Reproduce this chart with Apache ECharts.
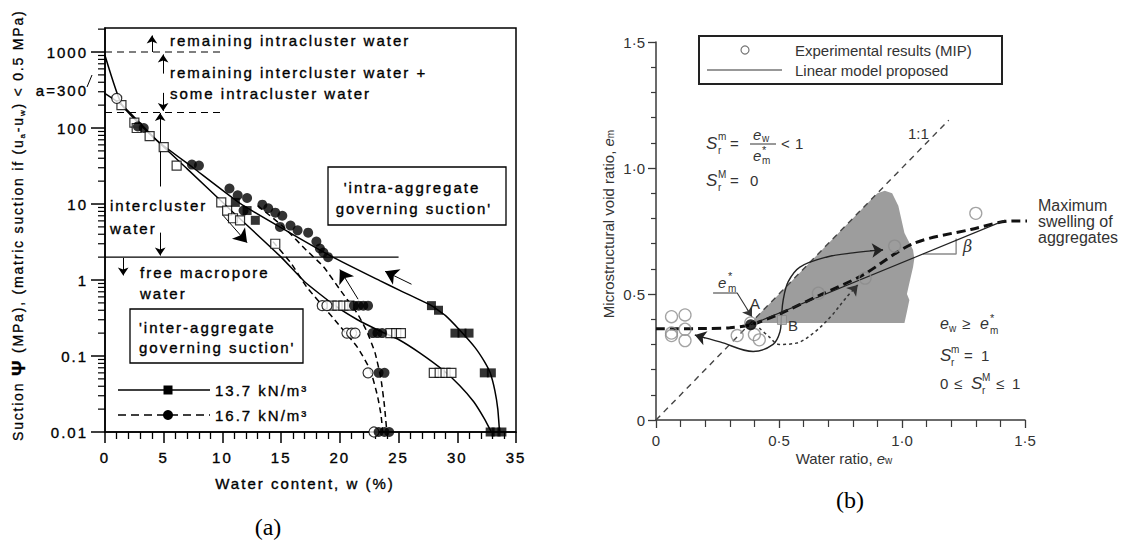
<!DOCTYPE html>
<html><head><meta charset="utf-8">
<script src="https://cdn.jsdelivr.net/npm/echarts@6.0.0/dist/echarts.min.js"></script>
<style>html,body{margin:0;padding:0;background:#fff;}#c{width:1122px;height:544px;}</style>
</head><body><div id="c"></div>
<script>
// ================= Panel (a): water content w (%) vs suction (MPa, log) =================
const aYLabels = ['0.01', '0.1', '1', '10', '100', '1000'];
const aYMajor = [-2, -1, 0, 1, 2, 3];
const aYMax = 2070;
// 13.7 kN/m3 solid curves
const c137UpW = [0, 1.45, 4.4, 7.5, 11.5, 15.5, 19.4, 23.4, 25.1, 27.7, 29, 30.2, 31.5, 32.3, 32.8, 33.2, 33.45, 33.6];
const c137UpP = [900, 200, 69, 30, 10.2, 4.4, 2.0, 0.98, 0.73, 0.47, 0.34, 0.22, 0.13, 0.085, 0.06, 0.035, 0.02, 0.01];
const c137LoW = [-0.68, 1.45, 4.4, 7, 10.9, 15, 17, 19.5, 21.5, 23.5, 25, 26.8, 28.8, 30.2, 31.4, 32.3, 32.9];
const c137LoP = [333, 200, 69, 29, 7.8, 2.0, 0.95, 0.47, 0.3, 0.21, 0.165, 0.11, 0.065, 0.041, 0.025, 0.015, 0.01];
// 16.7 kN/m3 dashed curves
const c167AW = [13.0, 15.2, 17.0, 18.6, 20, 21.5, 22.3, 23.0, 23.5, 23.8, 24];
const c167AP = [9.5, 5.0, 2.6, 1.5, 0.75, 0.36, 0.21, 0.11, 0.05, 0.022, 0.01];
const c167BW = [14.3, 15.8, 17.2, 19.4, 21.5, 22.6, 23.2, 23.5, 23.65];
const c167BP = [3.2, 1.7, 0.8, 0.32, 0.13, 0.065, 0.03, 0.017, 0.01];
// measured points
const sqFillW = [11.1, 12.1, 12.8, 27.8, 28.4, 29.8, 30.4, 31.0, 32.3, 32.9, 32.8, 33.3, 33.8];
const sqFillP = [10.5, 8.2, 6.1, 0.46, 0.40, 0.2, 0.2, 0.2, 0.06, 0.06, 0.01, 0.01, 0.01];
const sqOpenW = [1.4, 2.5, 2.7, 3.8, 5.0, 6.1, 9.9, 10.4, 10.9, 11.5, 14.5, 19.3, 19.8, 20.3, 20.8, 24.3, 24.8, 25.2, 28.0, 28.5, 29.0, 29.5];
const sqOpenP = [200, 118, 100, 78, 56, 32, 10.5, 8.2, 6.5, 6.1, 3.0, 0.46, 0.46, 0.46, 0.46, 0.2, 0.2, 0.2, 0.06, 0.06, 0.06, 0.06];
const ciFillW = [2.8, 3.3, 7.4, 8.0, 10.6, 11.3, 12.1, 11.8, 13.4, 13.9, 14.5, 15.1, 14.9, 15.8, 16.4, 17.3, 18.0, 18.3, 18.6, 19.0, 21.2, 21.6, 22.0, 22.4, 22.8, 23.2, 23.6, 23.3, 23.8, 23.3, 23.8, 24.2];
const ciFillP = [105, 100, 33, 32, 16, 13, 12, 8.2, 9.8, 8.8, 7.7, 7.0, 5.0, 5.2, 4.5, 4.2, 3.2, 2.6, 2.3, 2.0, 0.46, 0.46, 0.46, 0.46, 0.2, 0.2, 0.2, 0.06, 0.06, 0.01, 0.01, 0.01];
const ciOpenW = [1.0, 18.5, 18.9, 20.6, 21.0, 21.3, 22.4, 22.9];
const ciOpenP = [245, 0.46, 0.46, 0.2, 0.2, 0.2, 0.06, 0.01];
// guide levels
const levelTopW = [0, 10], levelTopP = 1000;
const levelMidW = [0, 10], levelMidP = 160;
const levelFreeW = [0, 25], levelFreeP = 2;
// annotation arrows [w1, p1, w2, p2, headSize]
const aArrows = [
  [4.0, 1000, 4.0, 1650, 8], [4.95, 520, 4.95, 930, 8], [4.95, 290, 4.95, 168, 8],
  [4.7, 17, 4.7, 158, 8], [4.7, 4.2, 4.7, 2.1, 8], [1.55, 1.95, 1.55, 1.15, 8],
  [10.05, 7.1, 12.1, 3.1, 13], [21.55, 0.56, 20.0, 1.37, 13], [26.1, 0.88, 23.85, 1.3, 13]
];

// ================= Panel (b): water ratio vs microstructural void ratio =================
const bTickLabels = ['0', '0·5', '1·0', '1·5'];
const expEw = [0.063, 0.118, 0.063, 0.063, 0.118, 0.118, 0.33, 0.40, 0.42, 0.385, 0.66, 0.85, 0.97, 1.30];
const expEm = [0.41, 0.417, 0.345, 0.335, 0.36, 0.315, 0.335, 0.339, 0.318, 0.385, 0.503, 0.563, 0.69, 0.82];
const ptA = [0.385, 0.378];
const ptB = [0.512, 0.397];
const modelEw = [0.385, 1.42];
const modelEm = [0.378, 0.793];
const swellEw = [0, 0.2, 0.3, 0.385, 0.5, 0.667, 0.84, 1.045, 1.28, 1.45, 1.53];
const swellEm = [0.362, 0.363, 0.366, 0.378, 0.42, 0.496, 0.575, 0.70, 0.756, 0.79, 0.79];
const diagEw = [0, 1.19];
const diagEm = [0, 1.19];
const shadeEw = [0.385, 0.88, 0.9, 0.93, 0.96, 0.985, 1.01, 1.045, 1.05, 1.045, 1.03, 1.02, 1.03, 1.02, 1.01];
const shadeEm = [0.385, 0.88, 0.9, 0.91, 0.9, 0.85, 0.742, 0.675, 0.64, 0.607, 0.544, 0.5, 0.476, 0.43, 0.385];
const pathEw = [0.158, 0.26, 0.395, 0.476, 0.504, 0.51, 0.517, 0.537, 0.585, 0.695, 0.8, 0.923];
const pathEm = [0.337, 0.31, 0.272, 0.3, 0.35, 0.41, 0.476, 0.548, 0.607, 0.647, 0.663, 0.675];
const dotEw = [0.42, 0.46, 0.5, 0.57, 0.64, 0.71, 0.775, 0.82];
const dotEm = [0.365, 0.33, 0.3, 0.305, 0.345, 0.41, 0.488, 0.536];
const betaEw = [1.085, 1.22, 1.22];
const betaEm = [0.659, 0.659, 0.72];
const pointerEw = [0.232, 0.33, 0.39];
const pointerEm = [0.504, 0.504, 0.41];

// ---------------- helpers ----------------
const L = v => Math.log10(v);
const zipL = (w, p) => w.map((x, i) => [x, L(p[i])]);
const zip = (a, b) => a.map((x, i) => [x, b[i]]);
const LF = '"Liberation Sans"';
const RF = 'Arial, "Liberation Sans"';
const spacingFor = px => (px >= 15 ? 2.0 : 1.8); // letter spacing of the scanned panel (a)

const aMinor = [];
for (let n = -2; n <= 3; n++) for (let k = 2; k <= 9; k++) { const v = k * Math.pow(10, n); if (v <= aYMax) aMinor.push(L(v)); }

function T(x, y, text, font, opt) {
  const st = Object.assign({ text: text, font: font, fill: '#000', align: 'left', verticalAlign: 'middle', textAlign: 'left', textVerticalAlign: 'middle' }, opt || {});
  if (st.align !== 'left') st.textAlign = st.align;
  return { type: 'text', x: x, y: y, silent: true, z: 100, style: st };
}
function TA(x, y, text, opt) { // panel a text, slightly heavier strokes like the scan
  return T(x, y, text, '15px ' + LF, Object.assign({ stroke: '#000', lineWidth: 0.35 }, opt || {}));
}
function Ln(x1, y1, x2, y2, color, w) {
  return { type: 'line', silent: true, z: 100, shape: { x1: x1, y1: y1, x2: x2, y2: y2 }, style: { stroke: color, lineWidth: w } };
}

// rotated y title of panel a, built from pieces so the subscripts sit right
const mctx = document.createElement('canvas').getContext('2d');
function tw(text, font, px) { mctx.font = font; return mctx.measureText(text).width + spacingFor(px) * [...text].length; }
const titleParts = [
  ['Suction ', '14px ' + LF, 14, 0], ['Ψ', 'bold 19px ' + LF, 19, 0], [' (MPa), (matric suction if (u', '14px ' + LF, 14, 0],
  ['a', '8px ' + LF, 8, 4], ['-u', '14px ' + LF, 14, 0], ['w', '8px ' + LF, 8, 4], [') < 0.5 MPa)', '14px ' + LF, 14, 0]];
const titleGraphics = [];
(function () {
  let cum = 0; const x0 = 18, y0 = 441;
  titleParts.forEach(p => {
    titleGraphics.push({ type: 'text', x: x0 + p[3], y: y0 - cum, rotation: Math.PI / 2, silent: true, z: 100,
      style: { text: p[0], font: p[1], fill: '#000', stroke: '#000', lineWidth: 0.3, align: 'left', verticalAlign: 'middle', textAlign: 'left', textVerticalAlign: 'middle' } });
    cum += tw(p[0], p[1], p[2]);
  });
})();

const bFont = '15px ' + RF;
const bIt = s => 'italic ' + s + 'px ' + RF;
const bSm = '10px ' + RF;
const bc = '#333';

const lineA = (data, dashed, extra) => Object.assign({
  type: 'line', xAxisIndex: 0, yAxisIndex: 0, data: data, symbol: 'none', showSymbol: false,
  smooth: 0.15, clip: false, silent: true, z: 2,
  lineStyle: { color: '#000', width: 1.5, type: dashed ? [6, 4] : 'solid' }
}, extra || {});
const scatA = (data, sym, filled) => ({
  type: 'scatter', xAxisIndex: 0, yAxisIndex: 0, data: data, symbol: sym, symbolSize: sym === 'rect' ? 9 : 10,
  silent: true, z: 5, clip: false,
  itemStyle: filled ? { color: '#000' } : { color: '#fff', borderColor: '#000', borderWidth: 1.2 }
});
const lineB = (data, style, extra) => Object.assign({
  type: 'line', xAxisIndex: 1, yAxisIndex: 1, data: data, symbol: 'none', showSymbol: false,
  clip: false, silent: true, z: 3, lineStyle: style
}, extra || {});
const arrowML = (pairs, color, defSize) => ({
  silent: true, symbol: ['none', 'arrow'], symbolSize: defSize, label: { show: false },
  emphasis: { disabled: true }, lineStyle: { type: 'solid', color: color, width: 1 },
  data: pairs
});

const option = {
  animation: false,
  backgroundColor: '#fff',
  textStyle: { fontFamily: 'Liberation Sans' },
  grid: [
    { left: 105, top: 28, width: 411, height: 404, show: true, borderColor: '#000', borderWidth: 1.5, backgroundColor: 'transparent' },
    { left: 656, top: 42, width: 369, height: 378, show: false }
  ],
  xAxis: [
    { gridIndex: 0, type: 'value', min: 0, max: 35, interval: 5,
      axisLine: { onZero: false, lineStyle: { color: '#000', width: 1.5 } },
      axisTick: { length: 11, lineStyle: { color: '#000', width: 1.5 } },
      minorTick: { show: true, splitNumber: 5, length: 7, lineStyle: { color: '#000', width: 1.3 } },
      splitLine: { show: false },
      axisLabel: { margin: 18, fontSize: 15, color: '#000', fontFamily: 'Liberation Sans', textBorderColor: '#000', textBorderWidth: 0.35 } },
    { gridIndex: 1, type: 'value', min: 0, max: 1.5, interval: 0.5,
      axisLine: { onZero: false, lineStyle: { color: '#3a3a3a', width: 1.5 } },
      axisTick: { length: 8, lineStyle: { color: '#3a3a3a', width: 1.3 } },
      minorTick: { show: true, splitNumber: 5, length: 7, lineStyle: { color: '#3a3a3a', width: 1.2 } },
      splitLine: { show: false },
      axisLabel: { margin: 13, fontSize: 15, color: bc, fontFamily: 'Arial', formatter: v => bTickLabels[Math.round(v * 2)] } }
  ],
  yAxis: [
    { gridIndex: 0, type: 'value', min: -2, max: L(aYMax), interval: 1,
      axisLine: { show: true, onZero: false, lineStyle: { color: '#000', width: 1.5 } },
      axisTick: { show: false },
      splitLine: { show: false },
      axisLabel: { margin: 17, fontSize: 15, color: '#000', fontFamily: 'Liberation Sans', customValues: aYMajor, textBorderColor: '#000', textBorderWidth: 0.35,
        formatter: v => { const r = Math.round(v); return Math.abs(v - r) < 1e-6 && r >= -2 && r <= 3 ? aYLabels[r + 2] : ''; } } },
    { gridIndex: 1, type: 'value', min: 0, max: 1.5, interval: 0.5,
      axisLine: { show: true, onZero: false, lineStyle: { color: '#3a3a3a', width: 1.5 } },
      axisTick: { show: true, length: 8, lineStyle: { color: '#3a3a3a', width: 1.3 } },
      minorTick: { show: true, splitNumber: 5, length: 5, lineStyle: { color: '#3a3a3a', width: 1.2 } },
      splitLine: { show: false },
      axisLabel: { margin: 11, fontSize: 15, color: bc, fontFamily: 'Arial', formatter: v => bTickLabels[Math.round(v * 2)] } }
  ],
  series: [
    // ---- panel a: log ticks of the suction axis ----
    { type: 'custom', xAxisIndex: 0, yAxisIndex: 0, clip: false, silent: true, z: 10,
      data: aYMajor.map(v => [0, v, 1]).concat(aMinor.map(v => [0, v, 0])),
      renderItem: (p, api) => {
        const c = api.coord([0, api.value(1)]); const major = api.value(2) === 1; const len = major ? 14 : 7;
        return { type: 'line', shape: { x1: c[0] - len, y1: c[1], x2: c[0], y2: c[1] }, style: { stroke: '#000', lineWidth: major ? 1.5 : 1.2 } };
      } },
    lineA([[levelTopW[0], L(levelTopP)], [levelTopW[1], L(levelTopP)]], true, { smooth: false, lineStyle: { color: '#000', width: 1.2, type: [7, 5] } }),
    lineA([[levelMidW[0], L(levelMidP)], [levelMidW[1], L(levelMidP)]], true, { smooth: false, lineStyle: { color: '#000', width: 1.2, type: [7, 5] } }),
    lineA([[levelFreeW[0], L(levelFreeP)], [levelFreeW[1], L(levelFreeP)]], false, {
      smooth: false, lineStyle: { color: '#000', width: 1.3 },
      markLine: arrowML(aArrows.map(a => [{ coord: [a[0], L(a[1])] }, { coord: [a[2], L(a[3])], symbolSize: a[4] }]), '#000', 8)
    }),
    lineA(zipL(c137UpW, c137UpP), false),
    lineA(zipL(c137LoW, c137LoP), false),
    lineA(zipL(c167AW, c167AP), true),
    lineA(zipL(c167BW, c167BP), true),
    scatA(zipL(sqOpenW, sqOpenP), 'rect', false),
    scatA(zipL(ciOpenW, ciOpenP), 'circle', false),
    scatA(zipL(sqFillW, sqFillP), 'rect', true),
    scatA(zipL(ciFillW, ciFillP), 'circle', true),
    // ---- panel b ----
    { type: 'custom', xAxisIndex: 1, yAxisIndex: 1, data: [0], silent: true, z: 1, clip: false,
      renderItem: (p, api) => ({ type: 'polygon', shape: { points: shadeEw.map((x, i) => api.coord([x, shadeEm[i]])) }, style: { fill: '#9d9d9d' } }) },
    lineB(zip(diagEw, diagEm), { color: '#444', width: 1.4, type: [6, 5] }),
    lineB(zip(betaEw, betaEm), { color: '#8a8a8a', width: 1.4 }),
    lineB(zip(swellEw, swellEm), { color: '#111', width: 3, type: [9, 5] }, { smooth: 0.3 }),
    lineB(zip(modelEw, modelEm), { color: '#222', width: 1.2 }),
    lineB(zip(pathEw, pathEm), { color: '#222', width: 1.4 }, {
      smooth: 0.35,
      markLine: arrowML([
        [{ coord: [0.2, 0.325] }, { coord: [pathEw[0], pathEm[0]] }],
        [{ coord: [0.87, 0.672] }, { coord: [pathEw[pathEw.length - 1], pathEm[pathEm.length - 1]] }]
      ], '#222', 11)
    }),
    lineB(zip(dotEw, dotEm), { color: '#333', width: 1.5, type: [3, 3] }, {
      smooth: 0.35,
      markLine: arrowML([[{ coord: [0.8, 0.514] }, { coord: [dotEw[dotEw.length - 1], dotEm[dotEm.length - 1]] }]], '#333', 10)
    }),
    lineB(zip(pointerEw, pointerEm), { color: '#333', width: 1.1 }, {
      markLine: arrowML([[{ coord: [0.37, 0.44] }, { coord: [pointerEw[2], pointerEm[2]] }]], '#333', 9)
    }),
    { type: 'scatter', xAxisIndex: 1, yAxisIndex: 1, data: zip(expEw, expEm), symbol: 'circle', symbolSize: 12, silent: true, z: 6,
      itemStyle: { color: 'rgba(0,0,0,0)', borderColor: '#8c8c8c', borderWidth: 1.3 } },
    { type: 'scatter', xAxisIndex: 1, yAxisIndex: 1, data: [ptB], symbol: 'rect', symbolSize: 9, silent: true, z: 6,
      itemStyle: { color: '#aaa', borderColor: '#888', borderWidth: 1 } },
    { type: 'scatter', xAxisIndex: 1, yAxisIndex: 1, data: [ptA], symbol: 'circle', symbolSize: 11, silent: true, z: 7,
      itemStyle: { color: '#000' } }
  ],
  graphic: titleGraphics.concat([
    // ----- panel a texts -----
    TA(305, 483, 'Water content, w (%)', { align: 'center' }),
    TA(170, 40, 'remaining intracluster water'),
    TA(170, 72, 'remaining intercluster water +'),
    TA(170, 93, 'some intracluster water'),
    TA(88, 90, 'a=300', { align: 'right' }),
    Ln(87, 87, 92, 75, '#000', 1),
    TA(110, 205, 'intercluster'),
    TA(110, 228, 'water'),
    TA(140, 272, 'free macropore'),
    TA(140, 293, 'water'),
    { type: 'rect', silent: true, z: 90, shape: { x: 130, y: 309, width: 173, height: 54 }, style: { fill: '#fff', stroke: '#000', lineWidth: 1.3 } },
    TA(139, 327, "'inter-aggregate"),
    TA(139, 347, "governing suction'"),
    { type: 'rect', silent: true, z: 90, shape: { x: 328, y: 167, width: 178, height: 58 }, style: { fill: '#fff', stroke: '#000', lineWidth: 1.3 } },
    TA(412, 187, "'intra-aggregate", { align: 'center' }),
    TA(414, 208, "governing suction'", { align: 'center' }),
    Ln(118, 390, 210, 390, '#000', 1.5),
    { type: 'rect', silent: true, z: 100, shape: { x: 163.5, y: 385.5, width: 9, height: 9 }, style: { fill: '#000' } },
    TA(215, 390, '13.7 kN/m³'),
    { type: 'line', silent: true, z: 100, shape: { x1: 118, y1: 415, x2: 210, y2: 415 }, style: { stroke: '#000', lineWidth: 1.5, lineDash: [8, 5] } },
    { type: 'circle', silent: true, z: 100, shape: { cx: 168, cy: 415, r: 5 }, style: { fill: '#000' } },
    TA(215, 415, '16.7 kN/m³'),
    T(268, 527, '(a)', '24px "Liberation Serif"', { align: 'center' }),
    // ----- panel b texts -----
    { type: 'text', x: 608, y: 224, rotation: Math.PI / 2, silent: true, z: 100,
      style: { text: 'Microstructural void ratio, {i|e}{s|m}', fontSize: 15, fontFamily: 'Arial', fill: bc,
        align: 'center', verticalAlign: 'middle', textAlign: 'center', textVerticalAlign: 'middle',
        rich: { i: { fontSize: 15, fontStyle: 'italic', fontFamily: 'Arial', fill: bc },
                s: { fontSize: 10, fontFamily: 'Arial', verticalAlign: 'bottom', fill: bc } } } },
    { type: 'text', x: 844, y: 458, silent: true, z: 100,
      style: { text: 'Water ratio, {i|e}{s|w}', fontSize: 15, fontFamily: 'Arial', fill: bc,
        align: 'center', verticalAlign: 'middle', textAlign: 'center', textVerticalAlign: 'middle',
        rich: { i: { fontSize: 15, fontStyle: 'italic', fontFamily: 'Arial', fill: bc },
                s: { fontSize: 10, fontFamily: 'Arial', verticalAlign: 'bottom', fill: bc } } } },
    { type: 'rect', silent: true, z: 90, shape: { x: 699, y: 36, width: 303, height: 48 }, style: { fill: '#fff', stroke: '#222', lineWidth: 2 } },
    { type: 'circle', silent: true, z: 100, shape: { cx: 745, cy: 50, r: 4 }, style: { fill: 'none', stroke: '#777', lineWidth: 1.2 } },
    Ln(707, 70, 782, 70, '#333', 1.2),
    T(795, 50, 'Experimental results (MIP)', bFont, { fill: bc }),
    T(795, 70, 'Linear model proposed', bFont, { fill: bc }),
    // S_r^m = e_w / e_m* < 1
    T(706, 143, 'S', bIt(17), { fill: bc }),
    T(718, 136, 'm', bSm, { fill: bc }), T(718, 150, 'r', bSm, { fill: bc }),
    T(730, 143, '=', bFont, { fill: bc }),
    T(753, 134, 'e', bIt(15), { fill: bc }), T(762, 138, 'w', bSm, { fill: bc }),
    Ln(750, 144, 776, 144, bc, 1),
    T(753, 155, 'e', bIt(15), { fill: bc }), T(762, 150, '*', '11px ' + RF, { fill: bc }), T(762, 160, 'm', bSm, { fill: bc }),
    T(781, 143, '<', bFont, { fill: bc }), T(795, 143, '1', bFont, { fill: bc }),
    // S_r^M = 0
    T(706, 180, 'S', bIt(17), { fill: bc }),
    T(718, 174, 'M', bSm, { fill: bc }), T(718, 187, 'r', bSm, { fill: bc }),
    T(730, 180, '=', bFont, { fill: bc }), T(750, 180, '0', bFont, { fill: bc }),
    T(908, 133, '1:1', bFont, { fill: bc }),
    // e_m* pointer label, A, B, beta
    T(718, 282, 'e', bIt(15), { fill: bc }), T(728, 276, '*', '11px ' + RF, { fill: bc }), T(728, 288, 'm', bSm, { fill: bc }),
    T(750, 303, 'A', bFont, { fill: bc }),
    T(788, 325, 'B', bFont, { fill: bc }),
    T(963, 246, 'β', 'italic 16px "DejaVu Serif"', { fill: bc }),
    T(1038, 205, 'Maximum', '16px ' + RF, { fill: bc }),
    T(1038, 221, 'swelling of', '16px ' + RF, { fill: bc }),
    T(1038, 237, 'aggregates', '16px ' + RF, { fill: bc }),
    // e_w >= e_m*
    T(940, 323, 'e', bIt(16), { fill: bc }), T(949, 328, 'w', bSm, { fill: bc }),
    T(962, 323, '≥', bFont, { fill: bc }),
    T(980, 323, 'e', bIt(16), { fill: bc }), T(990, 318, '*', '11px ' + RF, { fill: bc }), T(990, 330, 'm', bSm, { fill: bc }),
    // S_r^m = 1
    T(940, 355, 'S', bIt(17), { fill: bc }), T(951, 349, 'm', bSm, { fill: bc }), T(951, 362, 'r', bSm, { fill: bc }),
    T(964, 355, '=', bFont, { fill: bc }), T(981, 355, '1', bFont, { fill: bc }),
    // 0 <= S_r^M <= 1
    T(940, 383, '0', bFont, { fill: bc }), T(954, 383, '≤', bFont, { fill: bc }),
    T(971, 383, 'S', bIt(17), { fill: bc }), T(982, 377, 'M', bSm, { fill: bc }), T(982, 390, 'r', bSm, { fill: bc }),
    T(996, 383, '≤', bFont, { fill: bc }), T(1012, 383, '1', bFont, { fill: bc }),
    T(850, 500, '(b)', '24px "Liberation Serif"', { align: 'center' })
  ])
};

const chart = echarts.init(document.getElementById('c'), null, { renderer: 'svg', width: 1122, height: 544 });
chart.setOption(option);

// the scanned panel (a) uses widely spaced lettering
function spaceLeft() {
  document.querySelectorAll('#c text').forEach(el => {
    const cs = getComputedStyle(el);
    const r = el.getBoundingClientRect();
    if (r.right < 560 && r.width > 0 && !/Serif/i.test(cs.fontFamily)) {
      el.style.letterSpacing = spacingFor(parseFloat(cs.fontSize)) + 'px';
    }
  });
}
spaceLeft();
chart.on('finished', spaceLeft);
setTimeout(spaceLeft, 50);
</script></body></html>
